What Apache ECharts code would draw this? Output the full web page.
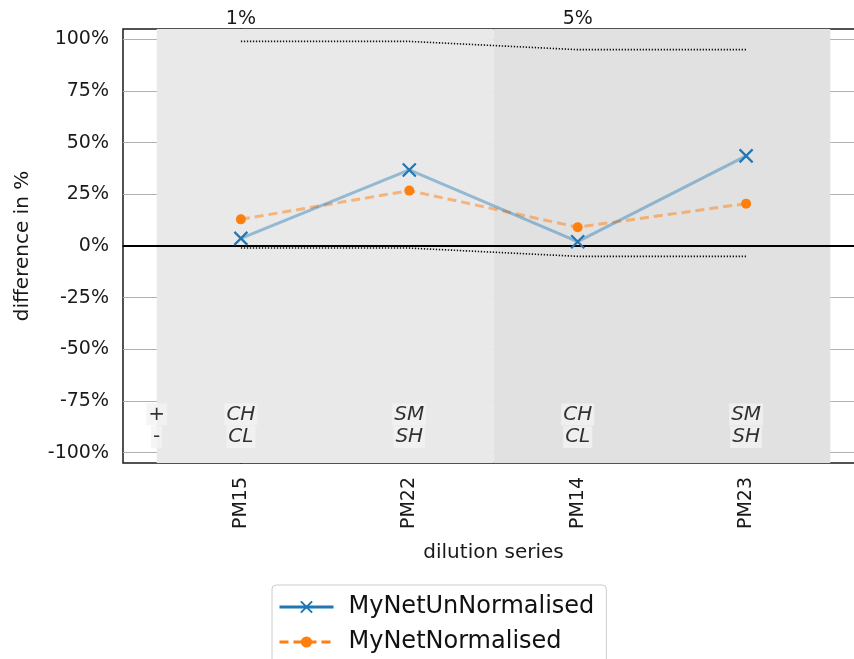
<!DOCTYPE html>
<html>
<head>
<meta charset="utf-8">
<script src="https://cdn.jsdelivr.net/npm/echarts@6/dist/echarts.min.js"></script>
<style>
  html, body { margin: 0; padding: 0; background: #fff; }
  #chart { width: 854px; height: 659px; }
</style>
</head>
<body>
<div id="chart"></div>
<script>
// Dilution series and per-series differences (in %)
const categories = ['PM15', 'PM22', 'PM14', 'PM23'];
const unNormalised = [3.7, 36.8, 2.1, 43.6];
const normalised = [12.9, 26.8, 9.1, 20.5];
// Tolerance envelope drawn as dotted lines
const upperBound = [99, 99, 95, 95];
const lowerBound = [-1, -1, -5, -5];
// Dilution levels shown above the plot, and their category index
const dilutionLabels = ['1%', '5%'];
const dilutionPositions = [0, 2];
// Shaded groups: [start, end] in category units
const groupBands = [[-0.5, 1.5], [1.5, 3.5]];
// Component annotations per category (+ row / - row)
const plusRow = ['CH', 'SM', 'CH', 'SM'];
const minusRow = ['CL', 'SH', 'CL', 'SH'];
const yTicks = [-100, -75, -50, -25, 0, 25, 50, 75, 100];

const FONT = 'DejaVu Sans';
const TXT = '#1a1a1a';

const xIdx = categories.map((_, i) => i);
const toPairs = arr => arr.map((v, i) => [i, v]);

const annotationData = [];
annotationData.push({ value: [-0.5, -81.5], label: { formatter: '+' } });
annotationData.push({ value: [-0.5, -92.5], label: { formatter: '-' } });
plusRow.forEach((t, i) => annotationData.push({ value: [i, -81.5], label: { formatter: t, fontStyle: 'italic' } }));
minusRow.forEach((t, i) => annotationData.push({ value: [i, -92.5], label: { formatter: t, fontStyle: 'italic' } }));

const chart = echarts.init(document.getElementById('chart'), null, { renderer: 'canvas' });

chart.setOption({
  animation: false,
  backgroundColor: '#fff',
  textStyle: { fontFamily: FONT },
  grid: {
    left: 123, top: 29, width: 741, height: 434,
    outerBoundsMode: 'none', containLabel: false,
    show: true, borderColor: '#1a1a1a', borderWidth: 1.5, backgroundColor: '#fff'
  },
  xAxis: [{
    type: 'value', min: -0.7, max: 3.7, position: 'bottom',
    name: 'dilution series', nameLocation: 'middle', nameGap: 80,
    nameTextStyle: { fontSize: 20, color: TXT, fontFamily: FONT },
    axisLine: { show: true, lineStyle: { color: '#1a1a1a', width: 1.5 } },
    axisTick: { show: true, customValues: xIdx, length: 6, lineStyle: { color: '#1a1a1a', width: 1.5 } },
    axisLabel: {
      customValues: xIdx, rotate: 90, margin: 14, fontSize: 19, color: TXT, fontFamily: FONT,
      formatter: v => categories[Math.round(v)]
    },
    splitLine: { show: true, lineStyle: { color: '#b0b0b0', width: 1.2 } }
  }, {
    type: 'value', min: -0.7, max: 3.7, position: 'top',
    axisLine: { show: false }, axisTick: { show: false }, splitLine: { show: false },
    axisLabel: {
      customValues: dilutionPositions, margin: 0, fontSize: 19, color: TXT, fontFamily: FONT,
      formatter: v => dilutionLabels[dilutionPositions.indexOf(Math.round(v))]
    }
  }],
  yAxis: {
    type: 'value', min: -105, max: 105,
    name: 'difference in %', nameLocation: 'middle', nameGap: 90, nameRotate: 90,
    nameTextStyle: { fontSize: 20, color: TXT, fontFamily: FONT },
    axisLine: { show: true, lineStyle: { color: '#1a1a1a', width: 1.5 } },
    axisTick: { show: true, customValues: yTicks, length: 6, lineStyle: { color: '#1a1a1a', width: 1.5 } },
    axisLabel: { customValues: yTicks, margin: 14, fontSize: 19, color: TXT, fontFamily: FONT, formatter: v => v + '%' },
    splitLine: { show: true, lineStyle: { color: '#b0b0b0', width: 1.2 } }
  },
  legend: {
    left: 272, top: 585, orient: 'vertical', height: 74,
    itemWidth: 54, itemHeight: 14, itemGap: 11,
    padding: [10, 12, 10, 6],
    borderColor: '#cccccc', borderWidth: 1, borderRadius: 4, backgroundColor: '#fff',
    textStyle: { fontSize: 24, color: '#111', fontFamily: FONT, padding: [0, 0, 0, 10] },
    data: [
      { name: 'MyNetUnNormalised', lineStyle: { color: '#1f77b4', opacity: 1, width: 3 } },
      { name: 'MyNetNormalised', lineStyle: { color: '#ff7f0e', opacity: 1, width: 3 } }
    ]
  },
  series: [
    {
      // shaded groups and the zero line
      type: 'line', data: [], silent: true,
      markArea: {
        silent: true,
        data: groupBands.map((b, i) => [
          { xAxis: b[0], itemStyle: { color: i === 0 ? '#e9e9e9' : '#e1e1e1' } },
          { xAxis: b[1] }
        ])
      },
      markLine: {
        silent: true, symbol: 'none', label: { show: false },
        lineStyle: { color: '#000', width: 1.8, type: 'solid' },
        data: [{ yAxis: 0 }]
      }
    },
    {
      name: 'upper', type: 'line', data: toPairs(upperBound), showSymbol: false, silent: true,
      lineStyle: { color: '#111', width: 1.6, type: [1.3, 1.7] }, z: 3
    },
    {
      name: 'lower', type: 'line', data: toPairs(lowerBound), showSymbol: false, silent: true,
      lineStyle: { color: '#111', width: 1.6, type: [1.3, 1.7] }, z: 3
    },
    {
      name: 'MyNetUnNormalised', type: 'line', data: toPairs(unNormalised),
      symbol: 'path://M0,0L10,10M10,0L0,10', symbolSize: 13,
      itemStyle: { color: '#1f77b4', borderColor: '#1f77b4', borderWidth: 2.2 },
      lineStyle: { color: 'rgba(31,119,180,0.42)', width: 3 }, z: 5
    },
    {
      name: 'MyNetNormalised', type: 'line', data: toPairs(normalised),
      symbol: 'circle', symbolSize: 10,
      itemStyle: { color: '#ff7f0e' },
      lineStyle: { color: 'rgba(255,127,14,0.5)', width: 3, type: [9, 5] }, z: 4
    },
    {
      // component annotations
      type: 'scatter', data: annotationData, symbolSize: 0, silent: true, z: 6,
      label: {
        show: true, position: 'inside', fontSize: 20, color: '#000', fontFamily: FONT,
        backgroundColor: '#f2f2f2', padding: [1, 2]
      }
    }
  ]
});
</script>
</body>
</html>
